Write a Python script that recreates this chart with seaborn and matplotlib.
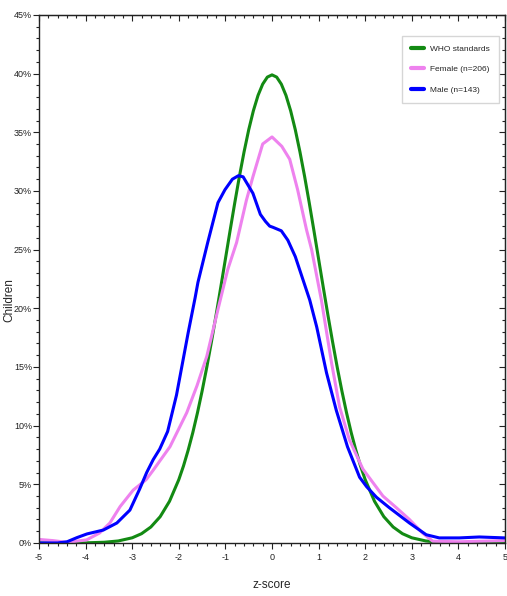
import numpy as np
import pandas as pd
import matplotlib.pyplot as plt
from matplotlib.ticker import MultipleLocator, PercentFormatter
import seaborn as sns

# WHO reference curve (percent of children)
who_z = [-5, -4, -3.6, -3.3, -3.0, -2.8, -2.6, -2.4, -2.2, -2.0, -1.9, -1.8, -1.7, -1.6,
         -1.5, -1.4, -1.3, -1.2, -1.1, -1.0, -0.9, -0.8, -0.7, -0.6, -0.5, -0.4, -0.3,
         -0.2, -0.1, 0.0, 0.1, 0.2, 0.3, 0.4, 0.5, 0.6, 0.7, 0.8, 0.9, 1.0, 1.1, 1.2,
         1.3, 1.4, 1.5, 1.6, 1.7, 1.8, 1.9, 2.0, 2.2, 2.4, 2.6, 2.8, 3.0, 3.3, 3.6, 4, 5]
who_pct = [0, 0.01, 0.06, 0.17, 0.44, 0.79, 1.36, 2.24, 3.55, 5.40, 6.56, 7.90, 9.40, 11.09,
           12.95, 14.97, 17.14, 19.42, 21.79, 24.20, 26.61, 28.97, 31.23, 33.32, 35.21, 36.83, 38.14,
           39.10, 39.70, 39.89, 39.70, 39.10, 38.14, 36.83, 35.21, 33.32, 31.23, 28.97, 26.61, 24.20, 21.79, 19.42,
           17.14, 14.97, 12.95, 11.09, 9.40, 7.90, 6.56, 5.40, 3.55, 2.24, 1.36, 0.79, 0.44, 0.17, 0.06, 0.01, 0]

# Female (n=206)
fem_z = [-5, -4.7, -4.4, -3.98, -3.7, -3.48, -3.26, -2.98, -2.7, -2.55, -2.19, -1.83,
         -1.61, -1.4, -1.16, -0.95, -0.76, -0.55, -0.41, -0.2, 0, 0.21, 0.38, 0.55,
         0.74, 0.85, 1.06, 1.28, 1.45, 1.66, 1.95, 2.38, 2.67, 2.95, 3.23, 3.45, 4, 4.5, 5]
fem_pct = [0.3, 0.2, 0.05, 0.26, 0.85, 1.7, 3.1, 4.5, 5.4, 6.2, 8.2, 11.1,
           13.4, 15.9, 19.9, 23.3, 25.6, 29.2, 31.2, 34.0, 34.6, 33.8, 32.7, 30.1,
           26.7, 25.0, 20.7, 15.3, 11.6, 8.8, 6.3, 4.0, 3.0, 2.0, 0.85, 0.15, 0.1, 0.15, 0.2]

# Male (n=143)
male_z = [-5, -4.6, -4.4, -4.19, -3.97, -3.62, -3.33, -3.05, -2.84, -2.69, -2.55, -2.41,
          -2.24, -2.05, -1.8, -1.65, -1.59, -1.38, -1.16, -1.01, -0.85, -0.72, -0.62,
          -0.41, -0.25, -0.14, -0.05, 0.02, 0.2, 0.34, 0.5, 0.81, 0.96, 1.17, 1.38,
          1.62, 1.88, 2.03, 2.24, 2.52, 2.95, 3.31, 3.59, 4.02, 4.45, 5.0]
male_pct = [0.0, 0.0, 0.1, 0.45, 0.77, 1.1, 1.7, 2.8, 4.6, 6.0, 7.1, 8.0,
            9.5, 12.6, 17.9, 20.9, 22.2, 25.6, 29.0, 30.1, 31.0, 31.3, 31.2,
            29.8, 28.0, 27.4, 27.0, 26.9, 26.6, 25.8, 24.4, 20.7, 18.4, 14.5, 11.3,
            8.2, 5.6, 4.8, 3.9, 3.0, 1.7, 0.7, 0.43, 0.43, 0.51, 0.43]

df = pd.concat([
    pd.DataFrame({'z': who_z, 'pct': who_pct, 'group': 'WHO standards'}),
    pd.DataFrame({'z': fem_z, 'pct': fem_pct, 'group': 'Female (n=206)'}),
    pd.DataFrame({'z': male_z, 'pct': male_pct, 'group': 'Male (n=143)'}),
])

sns.set_style('ticks')
plt.rcParams['font.family'] = ['Liberation Sans', 'DejaVu Sans']
plt.rcParams['axes.unicode_minus'] = False

fig = plt.figure(figsize=(5.07, 5.96), dpi=100)
ax = fig.add_axes([0.077, 0.089, 0.919, 0.886])

palette = {'WHO standards': '#138a13', 'Female (n=206)': '#ee82ee', 'Male (n=143)': '#0000ff'}
sns.lineplot(data=df, x='z', y='pct', hue='group', palette=palette, sort=False,
             estimator=None, linewidth=2.2, ax=ax)

ax.set_xlim(-5, 5)
ax.set_ylim(0, 45)
ax.xaxis.set_major_locator(MultipleLocator(1))
ax.xaxis.set_minor_locator(MultipleLocator(0.2))
ax.yaxis.set_major_locator(MultipleLocator(5))
ax.yaxis.set_minor_locator(MultipleLocator(1))
ax.yaxis.set_major_formatter(PercentFormatter(decimals=0))

for s in ax.spines.values():
    s.set_visible(True)
    s.set_linewidth(1.0)
    s.set_color('#222222')
ax.tick_params(which='both', labelsize=6.5, colors='#222222', width=0.8, direction='out')
ax.tick_params(which='major', length=4)
ax.tick_params(which='minor', length=2.5)
ax.tick_params(axis='y', which='major', pad=1)

# inward ticks on the top and right edges
top = ax.secondary_xaxis('top')
top.xaxis.set_major_locator(MultipleLocator(1))
top.xaxis.set_minor_locator(MultipleLocator(0.2))
top.tick_params(which='both', direction='in', labeltop=False, width=0.8, colors='#222222')
top.tick_params(which='major', length=4)
top.tick_params(which='minor', length=2.5)
right = ax.secondary_yaxis('right')
right.yaxis.set_major_locator(MultipleLocator(5))
right.yaxis.set_minor_locator(MultipleLocator(1))
right.tick_params(which='both', direction='in', labelright=False, width=0.8, colors='#222222')
right.tick_params(which='major', length=4)
right.tick_params(which='minor', length=2.5)

ax.set_xlabel('z-score', fontsize=8.5, labelpad=12)
ax.set_ylabel('Children', fontsize=8.5)
ax.yaxis.set_label_coords(-0.05, 0.46)

leg = ax.legend(loc='upper right', bbox_to_anchor=(0.996, 0.968), fontsize=6,
                frameon=True, fancybox=False, edgecolor='#cccccc', borderpad=1.1,
                labelspacing=1.5, handlelength=1.6, handletextpad=0.7, title=None)
for line in leg.get_lines():
    line.set_linewidth(3)

fig.savefig('out.png', dpi=100)
